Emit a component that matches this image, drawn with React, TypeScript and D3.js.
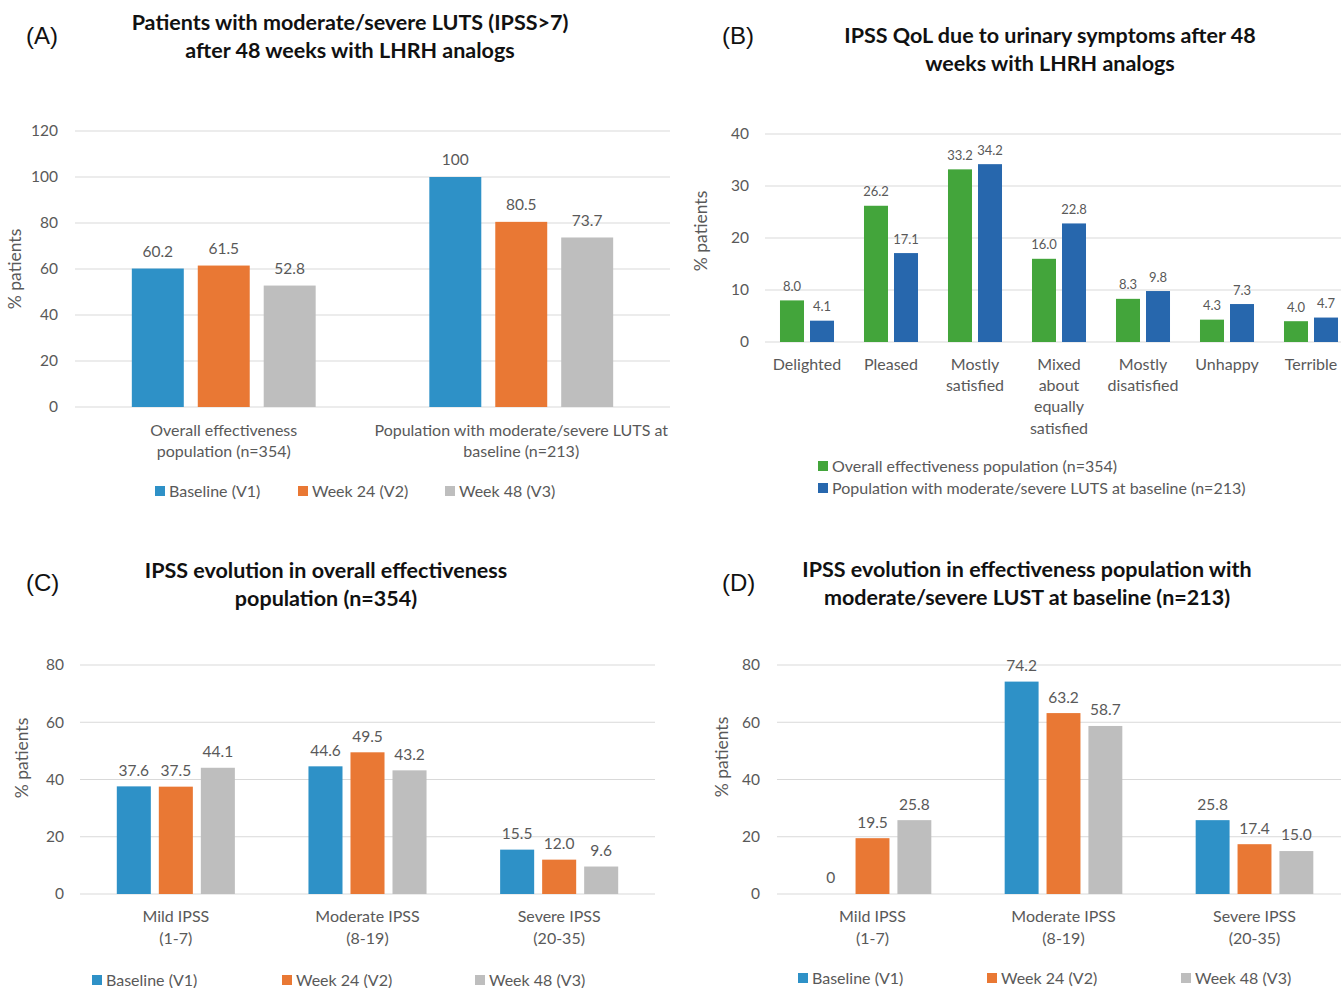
import * as d3 from 'd3';
import React, { useEffect } from 'react';

// ---- data ----
const timepoints = ['Baseline (V1)', 'Week 24 (V2)', 'Week 48 (V3)'];
const timeColors = ['#2E91C7', '#E97834', '#BEBEBE'];

const lutsCategories = ['Overall effectiveness\npopulation (n=354)', 'Population with moderate/severe LUTS at\nbaseline (n=213)'];
const lutsBaseline = [60.2, 100];
const lutsWeek24 = [61.5, 80.5];
const lutsWeek48 = [52.8, 73.7];

const qolCategories = ['Delighted', 'Pleased', 'Mostly\nsatisfied', 'Mixed\nabout\nequally\nsatisfied', 'Mostly\ndisatisfied', 'Unhappy', 'Terrible'];
const qolSeries = ['Overall effectiveness population (n=354)', 'Population with moderate/severe LUTS at baseline (n=213)'];
const qolColors = ['#43A53B', '#2767AD'];
const qolOverall = [8.0, 26.2, 33.2, 16.0, 8.3, 4.3, 4.0];
const qolModSevere = [4.1, 17.1, 34.2, 22.8, 9.8, 7.3, 4.7];

const ipssCategories = ['Mild IPSS\n(1-7)', 'Moderate IPSS\n(8-19)', 'Severe IPSS\n(20-35)'];
const ipssOverallBaseline = [37.6, 44.6, 15.5];
const ipssOverallWeek24 = [37.5, 49.5, 12.0];
const ipssOverallWeek48 = [44.1, 43.2, 9.6];
const ipssModBaseline = [0, 74.2, 25.8];
const ipssModWeek24 = [19.5, 63.2, 17.4];
const ipssModWeek48 = [25.8, 58.7, 15.0];

const FONT = "Lato, 'Open Sans', sans-serif";
const GREY = '#595959';

const fmt = (v: number) => (v === 100 || v === 0 ? String(v) : v.toFixed(1));

type Panel = {
  letter: string; letterX: number; letterY: number;
  title: string[]; titleX: number; titleY: number;
  categories: string[]; seriesNames: string[]; colors: string[]; values: number[][];
  x0: number; x1: number; yTop: number; yBottom: number; max: number; step: number;
  tickX: number; axisX: number; axisY: number;
  catY: number; catLH: number;
  groupFrac: number; pad: number;
  labelSize: number; labelOff: number;
  legend: [number, number][];
};

function ChartPanel({ p }: { p: Panel }) {
  const y = d3.scaleLinear().domain([0, p.max]).range([p.yBottom, p.yTop]);
  const x = d3.scaleBand<string>().domain(p.categories).range([p.x0, p.x1]).padding(0);
  const gw = x.bandwidth() * p.groupFrac;
  const inner = d3.scaleBand<number>()
    .domain(p.seriesNames.map((_, i) => i))
    .range([(x.bandwidth() - gw) / 2, (x.bandwidth() + gw) / 2])
    .paddingInner(p.pad).paddingOuter(0);
  const ticks = d3.range(0, p.max + p.step / 2, p.step);
  return (
    <g>
      <text x={p.letterX} y={p.letterY} fontFamily="'Liberation Sans', Arial, sans-serif" fontSize={24} fill="#111">{p.letter}</text>
      {p.title.map((t, i) => (
        <text key={i} x={p.titleX} y={p.titleY + i * 28} textAnchor="middle" fontFamily={FONT} fontWeight="bold" fontSize={21.5} fill="#111">{t}</text>
      ))}
      {ticks.map(t => (
        <g key={t}>
          <line x1={p.x0} x2={p.x1} y1={y(t)} y2={y(t)} stroke="#D9D9D9" strokeWidth={1} />
          <text x={p.tickX} y={y(t)} dy="0.35em" textAnchor="end" fontFamily={FONT} fontSize={15.5} fill={GREY}>{t}</text>
        </g>
      ))}
      <text transform={`translate(${p.axisX},${p.axisY}) rotate(-90)`} textAnchor="middle" dy="0.35em" fontFamily={FONT} fontSize={17.5} fill={GREY}>% patients</text>
      {p.categories.map((c, ci) => (
        <g key={c} transform={`translate(${x(c)},0)`}>
          {p.values.map((vals, si) => {
            const v = vals[ci];
            const bx = inner(si) as number;
            return (
              <g key={si}>
                <rect x={bx} y={y(v)} width={inner.bandwidth()} height={p.yBottom - y(v)} fill={p.colors[si]} />
                <text x={bx + inner.bandwidth() / 2} y={y(v) - p.labelOff} dy="0.35em" textAnchor="middle" fontFamily={FONT} fontSize={p.labelSize} fill={GREY}>{fmt(v)}</text>
              </g>
            );
          })}
          {c.split('\n').map((l, li) => (
            <text key={li} x={x.bandwidth() / 2} y={p.catY + li * p.catLH} dy="0.35em" textAnchor="middle" fontFamily={FONT} fontSize={16} fill={GREY}>{l}</text>
          ))}
        </g>
      ))}
      {p.seriesNames.map((s, si) => (
        <g key={s} transform={`translate(${p.legend[si][0]},${p.legend[si][1]})`}>
          <rect x={0} y={-5} width={10} height={10} fill={p.colors[si]} />
          <text x={14} y={0} dy="0.35em" fontFamily={FONT} fontSize={16} fill={GREY}>{s}</text>
        </g>
      ))}
    </g>
  );
}

const panels: Panel[] = [
  {
    letter: '(A)', letterX: 26, letterY: 44,
    title: ['Patients with moderate/severe LUTS (IPSS>7)', 'after 48 weeks with LHRH analogs'], titleX: 350, titleY: 30,
    categories: lutsCategories, seriesNames: timepoints, colors: timeColors,
    values: [lutsBaseline, lutsWeek24, lutsWeek48],
    x0: 75, x1: 670, yTop: 131, yBottom: 407, max: 120, step: 20,
    tickX: 58, axisX: 15, axisY: 269, catY: 430, catLH: 21,
    groupFrac: 0.618, pad: 0.212, labelSize: 15.5, labelOff: 17,
    legend: [[155, 491], [298, 491], [445, 491]],
  },
  {
    letter: '(B)', letterX: 722, letterY: 44,
    title: ['IPSS QoL due to urinary symptoms after 48', 'weeks with LHRH analogs'], titleX: 1050, titleY: 43,
    categories: qolCategories, seriesNames: qolSeries, colors: qolColors,
    values: [qolOverall, qolModSevere],
    x0: 765, x1: 1353, yTop: 134, yBottom: 342, max: 40, step: 10,
    tickX: 749, axisX: 701, axisY: 231, catY: 364, catLH: 21.4,
    groupFrac: 0.643, pad: 0.2, labelSize: 13, labelOff: 14,
    legend: [[818, 466], [818, 488]],
  },
  {
    letter: '(C)', letterX: 26, letterY: 591,
    title: ['IPSS evolution in overall effectiveness', 'population (n=354)'], titleX: 326, titleY: 578,
    categories: ipssCategories, seriesNames: timepoints, colors: timeColors,
    values: [ipssOverallBaseline, ipssOverallWeek24, ipssOverallWeek48],
    x0: 80, x1: 655, yTop: 665, yBottom: 894, max: 80, step: 20,
    tickX: 64, axisX: 22, axisY: 758, catY: 916, catLH: 22,
    groupFrac: 0.616, pad: 0.19, labelSize: 15.5, labelOff: 16,
    legend: [[92, 980], [282, 980], [475, 980]],
  },
  {
    letter: '(D)', letterX: 722, letterY: 591,
    title: ['IPSS evolution in effectiveness population with', 'moderate/severe LUST at baseline (n=213)'], titleX: 1027, titleY: 577,
    categories: ipssCategories, seriesNames: timepoints, colors: timeColors,
    values: [ipssModBaseline, ipssModWeek24, ipssModWeek48],
    x0: 777, x1: 1350, yTop: 665, yBottom: 894, max: 80, step: 20,
    tickX: 760, axisX: 722, axisY: 757, catY: 916, catLH: 22,
    groupFrac: 0.616, pad: 0.19, labelSize: 15.5, labelOff: 16,
    legend: [[798, 978], [987, 978], [1181, 978]],
  },
];

export default function App() {
  useEffect(() => {
    document.body.style.margin = '0';
  }, []);
  return (
    <svg width={1341} height={988} style={{ display: 'block', background: '#fff' }}>
      <rect width={1341} height={988} fill="#fff" />
      {panels.map(p => <ChartPanel key={p.letter} p={p} />)}
    </svg>
  );
}
